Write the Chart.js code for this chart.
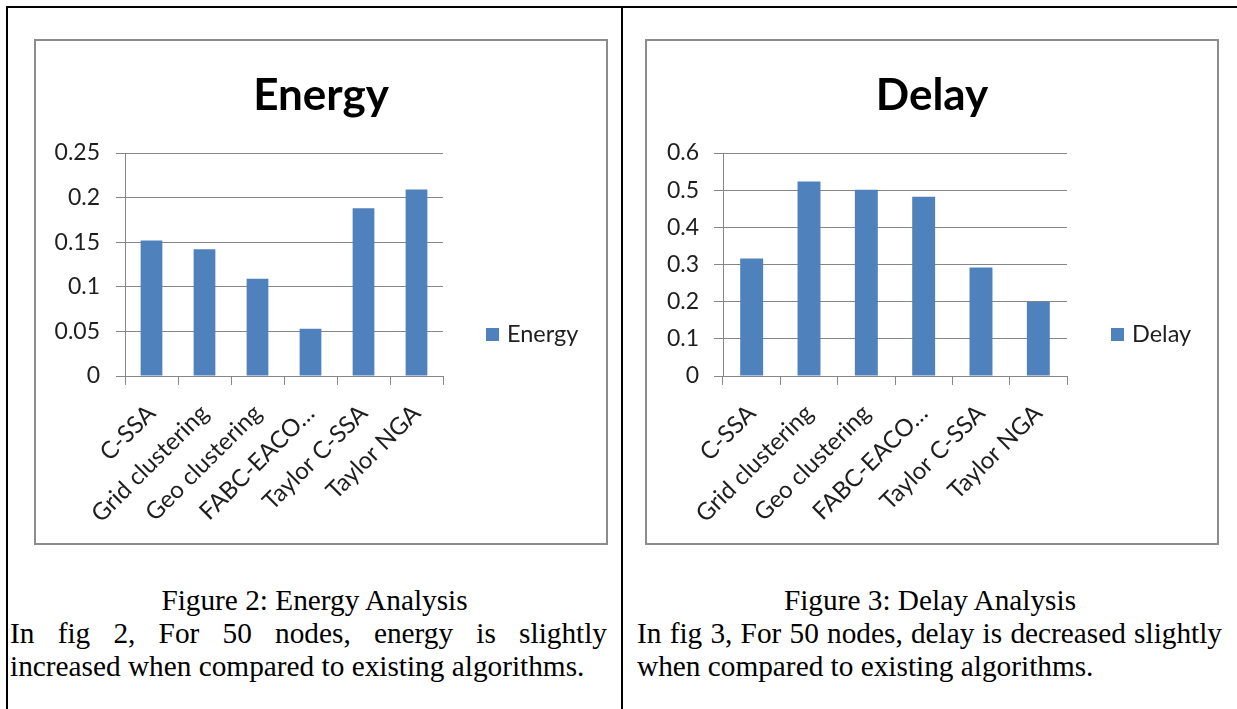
<!DOCTYPE html>
<html>
<head>
<meta charset="utf-8">
<script src="https://cdn.jsdelivr.net/npm/chart.js@4.4.1/dist/chart.umd.min.js"></script>
<style>
  html, body { margin: 0; padding: 0; background: #fff; }
  body { position: relative; width: 1237px; height: 709px; overflow: hidden; }
  .rule { position: absolute; background: #000; }
  .frame { position: absolute; box-sizing: border-box; border: 2px solid #8c8c8c; background: #fff; }
  .frame canvas { display: block; }
  .cap { position: absolute; font-family: "Liberation Serif", "Times New Roman", serif;
         font-size: 29.3px; line-height: 33px; color: #000; white-space: nowrap; }
  .center { text-align: center; }
  .just { text-align: justify; text-align-last: justify; }
</style>
</head>
<body>
<!-- table rules -->
<div class="rule" style="left:6px; top:6px; width:1231px; height:2px"></div>
<div class="rule" style="left:6px; top:6px; width:2px; height:703px"></div>
<div class="rule" style="left:621px; top:6px; width:2px; height:703px"></div>

<!-- chart frames -->
<div class="frame" style="left:34px; top:39px; width:574px; height:506px">
  <canvas id="energyChart" width="570" height="502"></canvas>
</div>
<div class="frame" style="left:645px; top:39px; width:574px; height:506px">
  <canvas id="delayChart" width="570" height="502"></canvas>
</div>

<!-- captions -->
<div class="cap center" style="left:8px; width:613px; top:584px">Figure 2: Energy Analysis</div>
<div class="cap just" style="left:10px; width:597px; top:617px">In fig 2, For 50 nodes, energy is slightly</div>
<div class="cap" style="left:10px; top:650px">increased when compared to existing algorithms.</div>

<div class="cap center" style="left:623px; width:614px; top:584px">Figure 3: Delay Analysis</div>
<div class="cap just" style="left:637px; width:585px; top:617px">In fig 3, For 50 nodes, delay is decreased slightly</div>
<div class="cap" style="left:637px; top:650px">when compared to existing algorithms.</div>

<script>
// Algorithms compared in both figures
const categories = ['C-SSA', 'Grid clustering', 'Geo clustering', 'FABC-EACO…', 'Taylor C-SSA', 'Taylor NGA'];

// Energy for 50 nodes
const energyValues = [0.152, 0.142, 0.109, 0.053, 0.188, 0.209];
const energyTickLabels = ['0', '0.05', '0.1', '0.15', '0.2', '0.25'];

// Delay for 50 nodes
const delayValues = [0.316, 0.523, 0.501, 0.482, 0.292, 0.200];
const delayTickLabels = ['0', '0.1', '0.2', '0.3', '0.4', '0.5', '0.6'];

const BAR_BLUE = '#4f81bd';
const GRID_GRAY = '#868686';
const TEXT_DARK = '#1e1e1e';
const FONT = 'Lato, "Open Sans", sans-serif';

Chart.defaults.font.family = FONT;
Chart.defaults.color = TEXT_DARK;

// Single-entry key drawn in the empty column right of the plot area
const sideKey = {
  id: 'sideKey',
  afterDraw(chart, args, opts) {
    const ds = chart.data.datasets[0];
    const area = chart.chartArea;
    const ctx = chart.ctx;
    const bx = area.right + opts.gap;
    const by = opts.midY - opts.box / 2;
    ctx.save();
    ctx.fillStyle = ds.backgroundColor;
    ctx.fillRect(bx, by, opts.box, opts.box);
    ctx.fillStyle = TEXT_DARK;
    ctx.font = opts.fontSize + 'px ' + FONT;
    ctx.textAlign = 'left';
    ctx.textBaseline = 'middle';
    ctx.fillText(ds.label, bx + opts.box + opts.textGap, opts.midY);
    ctx.restore();
  }
};

function makeChart(id, title, values, tickLabels, maxVal, step, geo) {
  return new Chart(document.getElementById(id), {
    type: 'bar',
    data: {
      labels: categories,
      datasets: [{
        label: title,
        data: values,
        backgroundColor: BAR_BLUE,
        borderWidth: 0,
        barPercentage: 1,
        categoryPercentage: geo.barShare,
        yAxisID: 'y'
      }]
    },
    plugins: [sideKey],
    options: {
      responsive: false,
      animation: false,
      devicePixelRatio: 1,
      layout: { padding: 0 },
      plugins: {
        legend: { display: false },
        tooltip: { enabled: false },
        title: {
          display: true,
          text: title,
          color: '#000',
          font: { family: FONT, size: 44, weight: 'bold', lineHeight: 1.2 },
          padding: { top: 28.6, bottom: geo.plotTop - 28.6 - 52.8 }
        },
        sideKey: { gap: geo.keyGap, midY: 293.5, box: 13, textGap: 8, fontSize: 23.5 }
      },
      scales: {
        x: {
          grid: { offset: true, drawOnChartArea: false, drawTicks: true, tickLength: 9, color: GRID_GRAY },
          border: { display: true, color: GRID_GRAY },
          ticks: { autoSkip: false, maxRotation: 45, minRotation: 45, padding: 14,
                   font: { size: 24 }, color: TEXT_DARK },
          afterFit(scale) { scale.height = geo.xHeight; }
        },
        y: {
          min: 0,
          max: maxVal,
          ticks: { stepSize: step, padding: geo.tickPad, font: { size: 23 }, color: TEXT_DARK,
                   callback: (v, i) => tickLabels[i] },
          grid: { drawTicks: true, tickLength: 9, color: GRID_GRAY },
          border: { display: true, color: GRID_GRAY },
          afterFit(scale) { scale.width = geo.yWidth; }
        },
        // empty column on the right that holds the key
        keySpace: {
          type: 'linear',
          position: 'right',
          display: true,
          grid: { display: false, drawTicks: false },
          ticks: { display: false },
          border: { display: false },
          afterFit(scale) { scale.width = geo.rightPad; }
        }
      }
    }
  });
}

makeChart('energyChart', 'Energy', energyValues, energyTickLabels, 0.25, 0.05,
  { yWidth: 89, rightPad: 163, plotTop: 112, xHeight: 167, tickPad: 16, keyGap: 43, barShare: 0.41 });

makeChart('delayChart', 'Delay', delayValues, delayTickLabels, 0.6, 0.1,
  { yWidth: 76, rightPad: 150, plotTop: 112, xHeight: 167, tickPad: 15, keyGap: 44, barShare: 0.40 });
</script>
</body>
</html>
